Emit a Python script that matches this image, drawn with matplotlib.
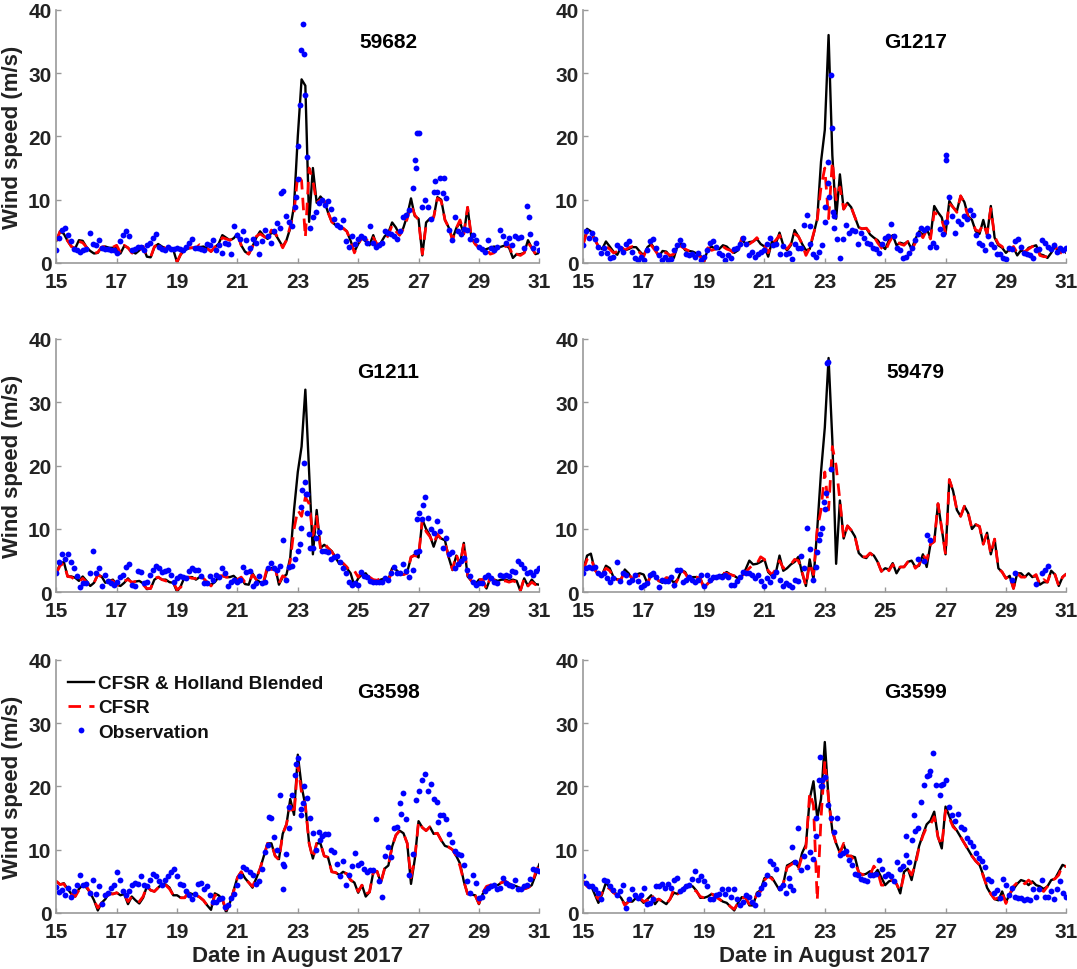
# wind speed at six stations, Harvey, August 2017
import numpy as np
import matplotlib
matplotlib.use('Agg')
import matplotlib.pyplot as plt

plt.rcParams['font.family'] = ['Liberation Sans', 'DejaVu Sans']
plt.rcParams['font.weight'] = 'bold'
plt.rcParams['axes.labelweight'] = 'bold'

n = np.nan
stations = ['59682', 'G1217', 'G1211', '59479', 'G3598', 'G3599']
xticks = [15, 17, 19, 21, 23, 25, 27, 29, 31]
yticks = [0, 10, 20, 30, 40]

# model series every 3 h, obs every 0.1 day (one row = one day)
model_t = [15 + i * 0.125 for i in range(129)]
obs_t = [15 + i * 0.1 for i in range(161)]

black_59682 = [3.5,5.0,4.6,3.5,2.6,2.3,3.6,3.5,
    2.5,1.9,1.5,1.6,2.5,2.6,2.4,2.4,
    2.4,1.5,2.7,2.4,1.8,1.5,2.0,2.6,
    1.0,0.9,2.5,3.0,2.6,2.3,2.4,2.1,
    0.1,1.4,2.0,2.3,2.4,2.4,2.5,2.6,
    2.3,1.8,2.5,3.0,4.4,4.0,3.6,3.9,
    4.6,2.8,1.8,1.4,2.6,4.0,5.0,4.3,
    3.8,4.8,4.6,3.6,2.6,3.6,5.5,9.0,
    20,29,28,6.5,15,9.5,10.5,9.8,
    8.0,6.5,6.0,5.5,5.5,5.0,3.5,1.8,
    3.0,4.0,3.4,2.8,4.4,2.6,3.2,4.2,
    4.8,6.4,5.6,4.4,5.6,7.5,10.2,7.4,
    7.0,1.2,6.4,7.0,7.2,10.4,10.0,6.8,
    5.6,3.8,5.5,6.4,4.6,8.8,4.0,3.0,
    2.4,2.0,2.2,2.4,2.6,2.4,2.6,2.8,
    2.4,0.8,1.4,1.4,1.6,3.6,2.4,1.4,1.6]
red_59682 = [3.5,5.0,4.4,3.5,2.6,2.3,3.4,3.2,
    2.5,1.8,1.5,1.7,2.5,2.6,2.4,2.5,
    2.8,1.6,2.8,2.4,1.6,1.4,2.0,2.6,
    1.0,0.9,2.6,3.0,2.6,2.3,2.4,2.1,
    0.2,1.4,2.0,2.4,2.4,2.4,2.9,2.6,
    2.3,1.8,2.5,3.0,4.0,3.8,3.6,3.9,
    4.6,2.8,1.8,1.4,2.6,4.2,4.6,4.2,
    3.8,5.2,4.8,3.6,2.4,3.6,5.8,8.0,
    14,13,4.0,15,13,9.5,10.0,9.8,
    8.0,6.5,6.0,5.5,5.5,5.0,3.5,1.6,
    3.0,4.0,3.8,3.2,4.0,3.0,3.0,3.4,
    4.4,6.0,5.0,4.4,5.4,7.0,9.2,7.6,
    6.8,1.4,6.0,6.8,7.2,10.2,9.8,6.8,
    5.6,3.6,5.5,6.8,4.6,8.8,4.0,3.0,
    2.4,2.0,2.2,1.4,1.6,2.4,2.6,2.6,
    2.8,1.0,1.4,1.2,1.6,3.2,2.4,1.4,1.6]
obs_59682 = [2.0,4.0,5.2,5.5,4.5,3.5,2.2,2.0,1.8,2.0,
    2.2,4.8,3.0,2.8,3.6,2.4,2.2,2.2,2.0,2.0,
    1.6,3.5,4.5,5.0,4.2,2.0,2.2,2.5,2.6,2.0,
    2.8,3.2,4.0,4.6,2.5,2.2,2.0,2.6,2.2,2.2,
    2.4,2.2,2.0,2.6,3.2,3.8,2.4,2.3,2.2,2.0,
    3.0,2.8,3.6,2.0,2.8,1.6,3.2,3.0,1.4,5.8,
    4.5,3.8,5.0,3.6,2.4,3.8,3.2,1.4,3.5,5.2,
    4.2,3.2,5.0,6.3,5.5,11.3,7.5,6.5,5.8,8.8,
    13.3,33.6,33.0,16.8,5.5,7.2,8.0,9.5,10.0,9.2,
    9.8,8.5,7.0,6.0,5.7,6.8,3.5,2.5,4.3,3.0,
    3.8,4.2,4.0,3.2,5.8,3.2,2.6,2.8,3.2,5.0,
    4.8,4.6,4.2,3.8,5.0,7.2,7.6,8.4,11.8,15.0,
    20.6,8.8,10.0,8.8,7.0,11.2,11.2,13.5,11.0,10.2,
    5.2,3.6,7.2,5.0,4.6,5.4,5.2,3.8,4.5,3.6,
    2.6,2.2,1.8,3.6,2.4,2.0,2.6,5.2,4.2,3.2,
    4.0,2.8,4.2,4.0,4.1,2.4,9.0,4.6,2.4,3.2,2.0]
extra_t_59682 = [22.94, 23.02, 23.07, 23.16, 23.24, 26.88, 26.95, 27.55, 27.85, 30.65, 22.45]
extra_v_59682 = [10.5, 18.5, 25.0, 37.8, 26.5, 16.3, 20.5, 13.0, 13.5, 7.2, 11.0]

black_G1217 = [3.0,5.4,5.0,3.8,2.6,2.2,3.4,2.6,
    1.8,1.3,2.5,2.0,2.2,2.5,2.5,1.8,
    1.2,2.5,3.0,2.2,1.0,1.9,1.8,1.0,
    0.8,2.8,3.0,2.0,1.9,1.8,1.5,1.2,
    0.2,2.2,2.6,2.2,2.2,2.8,2.6,2.0,
    1.6,2.0,3.8,3.0,3.3,3.4,3.8,3.0,
    2.6,1.0,3.4,3.0,4.8,2.8,2.0,2.8,
    5.2,4.2,3.0,2.0,2.2,4.5,7.0,16.0,
    21,36,17,7.0,14,8.5,9.5,8.8,
    7.2,5.6,5.4,5.5,4.5,4.0,3.6,2.8,
    2.2,3.6,4.4,2.8,3.2,3.0,3.4,2.2,
    3.8,5.0,4.4,5.4,4.0,9.0,8.0,7.2,
    4.6,9.8,8.8,8.2,10.6,9.6,7.4,6.8,
    5.0,4.6,6.8,4.4,9.0,4.0,2.8,2.4,
    1.6,2.2,2.4,1.2,2.0,1.6,2.4,2.6,
    2.8,1.4,1.2,0.8,1.6,2.6,1.8,2.2,1.6]
red_G1217 = [3.0,5.0,4.6,3.8,2.6,2.4,2.6,2.2,
    1.6,1.8,2.6,2.0,2.4,2.6,2.4,1.6,
    1.0,2.6,2.8,2.0,1.2,1.8,1.6,1.2,
    1.4,2.8,2.6,2.2,1.9,1.6,1.4,1.0,
    0.3,2.4,2.0,2.2,2.8,2.6,2.2,2.0,
    1.5,1.8,4.0,3.4,3.0,3.4,4.0,3.2,
    2.8,1.6,3.0,3.6,4.4,2.6,2.2,3.0,
    4.6,4.2,3.0,1.2,2.4,4.6,6.8,12.0,
    15,7.0,16,10,12,8.5,9.5,8.8,
    7.2,5.6,5.4,5.5,4.8,4.2,3.2,2.4,
    1.8,3.2,4.2,3.4,3.0,2.8,3.4,2.0,
    3.2,4.8,4.0,5.2,3.8,8.0,7.6,6.8,
    4.8,9.4,8.8,8.0,10.6,9.4,7.2,6.6,
    5.2,5.0,6.2,4.6,8.6,4.2,3.0,2.6,
    1.6,2.0,2.6,1.6,2.0,1.8,2.2,2.6,
    2.8,1.2,1.0,1.0,1.8,3.0,1.2,2.0,1.8]
obs_G1217 = [2.8,5.0,4.0,4.8,3.8,2.5,1.6,2.4,1.6,0.8,
    1.0,2.8,2.4,1.8,3.0,3.4,1.8,0.8,0.5,0.9,
    0.5,2.0,3.4,3.8,2.4,1.2,0.5,0.9,0.5,0.6,
    2.0,2.8,3.6,2.8,1.4,1.2,1.4,1.0,1.6,0.5,
    1.0,2.0,3.2,3.5,2.6,1.6,1.2,0.5,1.2,0.8,
    2.2,2.3,3.0,4.0,3.0,1.2,1.8,1.0,1.4,1.8,
    2.0,3.0,4.0,2.8,3.0,1.4,2.7,1.4,1.6,0.7,
    3.0,2.4,2.4,6.0,7.6,3.0,1.4,1.0,1.8,2.8,
    6.5,12.7,29.7,5.6,3.8,0.8,3.8,6.0,4.8,5.2,
    5.0,3.0,4.8,4.0,3.2,3.0,2.4,2.2,1.6,3.0,
    4.0,4.2,6.2,4.2,2.4,2.0,0.8,1.0,1.6,2.4,
    3.6,4.6,5.6,5.2,5.6,2.6,3.2,2.5,5.4,4.6,
    6.4,10.4,7.4,4.7,6.6,6.2,7.4,7.0,8.4,7.6,
    4.4,3.2,2.8,2.0,4.2,3.0,2.6,1.4,1.4,0.8,
    0.7,2.4,2.2,3.4,3.8,2.6,1.6,1.4,1.2,0.8,
    2.0,2.2,3.6,3.2,2.6,2.2,2.8,1.8,2.4,2.0,2.4]
extra_t_G1217 = [23.02, 23.1, 23.14, 23.23, 23.27, 23.3, 27.0, 27.03, 22.5]
extra_v_G1217 = [8.8, 16.0, 10.4, 21.3, 8.0, 7.4, 16.2, 17.1, 5.8]

black_G1211 = [3.0,4.5,4.8,2.5,2.5,2.3,1.8,2.5,
    1.8,1.0,1.5,2.8,2.5,1.5,1.8,2.0,
    1.2,1.0,1.5,2.2,1.5,1.7,1.8,1.4,
    0.5,0.6,2.0,2.4,2.0,2.0,1.6,1.5,
    0.1,1.0,2.4,2.4,2.4,2.0,2.4,2.2,
    1.4,1.2,1.6,2.4,2.6,2.4,2.4,2.6,
    2.0,2.2,1.3,1.2,3.0,2.0,1.6,1.6,
    3.8,3.8,4.0,1.2,2.4,2.8,5.5,13,
    19,23,32,19,6.0,13,7.0,7.5,
    7.0,6.5,5.5,4.5,4.5,3.8,3.0,1.0,
    2.2,2.8,3.0,2.2,1.8,1.8,2.0,2.2,
    2.0,3.8,3.6,3.0,2.8,3.2,5.5,6.0,
    5.5,11.5,10,9.0,7.2,9.0,8.5,8.2,
    5.5,3.5,5.8,4.5,7.8,2.5,1.8,1.2,
    2.0,2.0,0.6,2.2,2.0,1.8,2.0,2.0,
    1.8,2.0,1.8,0.2,2.2,1.0,2.0,1.3,1.2]
red_G1211 = [3.0,4.2,4.6,2.5,2.4,2.0,1.6,2.2,
    1.6,0.9,1.5,2.8,2.4,1.8,1.8,1.8,
    1.2,1.0,1.8,2.0,1.6,1.7,1.6,1.2,
    0.6,0.6,2.2,2.4,2.0,1.8,1.6,1.6,
    0.4,0.8,2.2,2.4,2.2,2.2,2.6,2.2,
    1.6,1.0,1.8,2.6,2.6,2.4,2.4,2.4,
    2.0,2.4,1.6,1.4,2.8,2.0,1.4,1.8,
    4.2,3.6,3.8,1.4,2.6,2.2,5.0,10,
    13,12,15,14,9.0,12,7.0,7.8,
    7.0,6.4,5.5,4.8,4.6,4.0,3.2,3.4,
    2.4,3.2,3.0,2.4,2.0,1.9,2.2,2.0,
    1.8,3.4,3.8,3.0,2.8,3.0,5.6,5.8,
    5.6,11.5,9.6,8.8,7.6,9.2,8.4,7.8,
    5.6,3.6,6.0,4.2,7.8,2.8,1.8,1.4,
    2.0,2.0,0.5,2.4,1.9,2.0,1.8,1.8,
    1.6,1.8,1.6,0.3,2.2,1.0,1.6,1.2,1.4]
obs_G1211 = [3.0,4.8,6.0,5.2,6.0,4.8,3.8,2.5,0.9,1.5,
    1.5,3.0,6.6,3.0,3.8,1.0,2.8,1.8,1.4,1.2,
    1.6,2.4,2.8,4.0,4.4,1.2,1.0,3.4,3.2,1.5,
    1.6,2.8,3.5,4.2,3.8,3.2,3.4,3.6,2.8,1.6,
    2.2,2.6,2.4,2.2,3.4,3.8,3.5,3.5,2.5,1.4,
    1.5,2.6,2.0,2.8,2.4,3.8,3.0,1.0,1.6,2.0,
    1.6,2.0,4.0,3.2,3.4,1.0,1.5,2.6,1.4,1.6,
    3.8,4.6,3.8,3.6,4.2,8.2,2.0,4.0,4.2,5.2,
    6.6,10.2,20.4,15.5,7.0,7.0,8.6,9.5,6.5,6.5,
    6.4,5.2,5.6,5.8,4.8,3.8,3.0,1.6,1.2,1.4,
    1.2,3.2,2.6,2.4,1.8,1.6,1.6,1.6,1.6,2.2,
    2.0,3.0,4.0,3.0,3.0,4.4,3.4,2.4,3.5,6.4,
    6.6,11.5,15.0,11.8,10.0,9.4,11.2,9.7,7.0,8.6,
    6.0,6.4,3.8,4.5,5.0,5.4,3.6,2.5,1.6,1.2,
    1.4,1.5,2.4,2.8,2.2,1.6,1.4,2.8,2.6,2.8,
    2.6,3.4,3.2,5.0,4.4,3.8,3.0,3.2,2.8,3.4,3.8]
extra_t_G1211 = [23.06, 23.1, 23.15, 23.24, 23.28, 23.32, 23.36, 27.0, 26.95, 27.15]
extra_v_G1211 = [7.6, 13.5, 16.2, 17.4, 15.5, 12.6, 9.2, 12.6, 11.5, 13.8]

black_59479 = [3.5,5.8,6.1,3.6,2.8,2.8,4.2,3.8,
    2.4,2.0,2.0,3.6,3.0,2.0,2.8,3.0,
    2.8,1.4,3.0,2.5,1.8,1.5,2.3,2.2,
    1.5,2.0,3.5,3.2,2.0,2.4,2.4,2.2,
    0.8,1.4,1.8,2.4,2.5,2.8,3.2,2.8,
    2.6,2.2,2.5,3.6,5.0,4.4,4.5,4.8,
    5.2,3.2,2.6,3.0,5.8,3.4,3.8,4.4,
    4.8,5.6,3.0,1.0,5.2,2.0,10,19,
    26,37,24,4.5,14.5,8.5,10.5,9.8,
    8.8,6.2,5.6,5.4,6.2,5.8,4.8,3.3,
    3.8,3.6,4.6,3.0,4.0,4.0,4.8,5.0,
    4.0,4.2,6.0,4.0,7.6,8.0,14,10,
    6.0,17.8,16,13,12,13.6,12.5,10,
    10.7,10.4,7.6,9.4,6.0,8.4,3.8,3.2,
    2.2,2.6,0.6,3.0,3.0,2.4,3.0,2.4,
    2.6,1.2,1.6,1.6,3.4,2.8,1.0,2.4,2.9]
red_59479 = [3.5,5.2,5.6,3.6,2.8,2.8,3.8,3.4,
    2.4,2.0,2.0,3.4,2.8,2.2,2.6,2.6,
    2.4,1.4,2.8,2.5,1.8,1.8,2.3,2.2,
    0.8,2.0,3.5,3.0,2.0,2.4,2.4,2.2,
    0.5,1.4,1.8,2.6,2.8,3.0,3.0,2.8,
    2.6,2.4,2.5,3.2,3.8,4.4,4.5,5.6,
    5.2,3.4,2.8,3.6,5.0,3.8,4.0,4.4,
    5.2,5.0,3.2,1.0,4.6,2.8,10,13,
    19,13,23,20,14.5,8.5,10.5,9.8,
    8.8,6.2,5.6,5.6,6.2,5.6,4.8,3.3,
    4.2,3.4,4.4,3.4,4.0,4.0,4.8,5.0,
    3.8,4.4,6.0,5.0,7.6,8.0,14,10,
    6.0,17.8,16,13,12,13.6,12.5,10,
    10.7,10.4,7.6,9.4,6.0,8.4,3.8,3.2,
    2.2,2.6,0.6,3.0,2.4,2.4,2.8,2.4,
    2.8,1.2,2.0,1.6,3.4,2.8,1.0,2.4,2.9]
obs_59479 = [3.1,3.8,4.0,3.8,4.0,3.0,2.8,3.0,2.2,1.6,
    2.2,4.8,1.8,3.0,2.8,1.6,2.0,2.8,1.8,0.8,
    1.2,1.4,2.8,3.0,2.4,0.8,2.0,1.8,1.8,2.4,
    1.2,3.6,3.5,1.6,2.0,2.4,2.0,1.6,1.9,2.8,
    1.0,2.8,2.0,2.4,2.4,2.6,2.4,2.8,2.4,1.1,
    1.2,1.8,2.4,3.2,3.0,3.0,2.8,2.2,2.8,1.8,
    1.0,2.2,1.6,2.6,3.2,2.0,1.0,1.4,1.2,0.9,
    2.0,1.8,5.8,3.8,10.1,6.8,2.0,4.0,8.2,10.2,
    13.2,36.3,19.4,n,n,n,n,n,n,n,
    n,n,n,n,n,n,n,n,n,n,
    n,n,n,n,n,n,n,n,n,n,
    n,5.2,n,5.0,9.0,8.2,n,n,n,n,
    n,n,n,n,n,n,n,n,n,n,
    n,n,n,n,n,n,n,n,n,n,
    n,n,1.9,3.0,n,n,n,n,n,n,
    1.3,n,3.0,3.6,4.2,n,n,n,n,n,n]
extra_t_59479 = [22.98, 23.05, 23.08, 22.75, 22.85]
extra_v_59479 = [14.2, 15.7, 36.2, 6.3, 9.2]

black_G3598 = [5.0,4.5,4.7,3.8,3.0,2.6,3.8,4.4,
    4.0,3.2,2.0,0.4,1.6,2.2,3.2,3.0,
    3.2,2.8,3.0,1.4,2.6,2.0,1.5,2.4,
    4.2,3.6,3.4,4.0,4.6,4.5,4.0,2.8,
    2.8,2.4,2.4,3.2,3.0,2.8,2.5,2.0,
    1.2,0.5,3.1,2.8,2.2,0.1,1.6,3.6,
    5.6,6.5,5.5,4.8,4.0,5.5,7.0,9.0,
    11,11,9.0,8.5,12.5,14,18,15.5,
    25,20,17,11,8.6,11,11,9.0,
    8.8,6.5,6.4,6.0,6.5,6.2,5.2,4.8,
    3.2,4.4,2.6,3.3,6.4,6.6,4.8,7.0,
    7.5,10.5,12.3,13,12.6,11,4.6,8.5,
    14.5,13.5,13,13.6,12.5,12.6,11.5,10.6,
    10.4,10,9.0,7.8,5.0,3.0,2.9,2.8,
    1.4,3.0,3.8,4.2,4.4,4.4,4.8,5.0,
    4.6,4.4,4.2,3.9,3.8,4.0,4.4,6.0,7.7]
red_G3598 = [5.0,4.5,4.6,3.6,3.0,2.6,3.6,4.4,
    4.2,3.2,2.0,0.8,1.6,2.2,3.0,3.0,
    3.2,2.8,3.0,1.8,2.6,2.2,1.8,2.6,
    4.2,3.6,3.4,4.0,4.6,4.4,3.8,2.8,
    2.8,2.4,2.4,3.2,3.0,2.8,2.5,2.0,
    1.2,0.8,2.8,2.8,2.2,0.5,1.6,3.4,
    5.6,6.5,5.5,4.8,4.2,5.5,7.0,9.0,
    11,11,9.0,8.4,12.5,14,17,15.5,
    23.5,19,17,11,8.6,11,11,9.0,
    8.8,6.5,6.4,6.0,6.4,6.2,5.2,4.8,
    3.4,4.4,3.0,3.3,6.4,6.6,4.8,7.0,
    7.5,10.5,12.3,13,12.6,11,5.6,8.5,
    14.5,13.5,13,13.6,12.5,12.6,11.5,10.6,
    10.4,10,9.0,7.4,5.0,3.0,3.4,2.8,
    1.5,3.2,4.2,4.4,4.6,4.6,4.8,5.0,
    4.6,4.4,4.2,3.9,3.8,4.0,4.4,6.4,7.7]
obs_G3598 = [4.1,3.3,3.6,2.8,4.0,2.5,3.4,4.5,6.0,4.5,
    4.6,3.2,5.2,3.0,4.2,1.5,2.8,3.2,4.0,4.5,
    6.4,5.2,3.4,2.8,3.4,4.4,4.8,4.6,5.8,4.4,
    4.2,5.2,6.2,5.8,5.0,4.4,5.2,5.8,6.4,6.9,
    5.8,4.6,4.4,3.5,2.8,2.2,3.0,4.6,4.8,3.8,
    4.2,2.8,1.8,1.8,2.2,2.4,1.0,1.2,2.4,3.0,
    4.4,5.8,7.2,7.0,6.4,6.0,4.6,5.0,7.0,9.6,
    10.8,15,12,10,18.6,7.8,9.3,16.8,18.6,21.8,
    24.5,16.5,20,18.2,15,12.6,10,12.8,12.2,12.4,
    12.5,10,9.6,7.8,5.8,8.2,4.5,6.0,7.5,9.4,
    7.6,7.9,7.0,6.4,6.8,6.8,14.9,5.0,2.5,9.0,
    10.4,8.8,13.4,13.6,17.3,19,14.8,6.0,9.3,17.8,
    19.3,21,22,19.3,20.3,18,17.6,15.5,15.5,14.8,
    12.5,11.2,9.8,9.3,9.1,7.6,5.0,3.2,6.0,4.8,
    2.4,2.6,3.5,4.0,4.2,4.4,3.8,4.0,5.6,4.8,
    4.4,4.2,5.2,3.8,3.8,4.2,4.4,5.4,7.0,6.8,6.6]
extra_t_G3598 = [22.5, 22.05, 22.72, 22.95, 23.12, 23.18, 26.42, 27.65, 22.55, 23.75]
extra_v_G3598 = [3.8, 15.2, 13.4, 23.6, 15.4, 17.4, 15.6, 14.4, 7.4, 11.6]

black_G3599 = [5.0,4.4,4.4,3.0,1.6,3.0,4.8,4.0,
    3.2,3.0,2.4,1.4,1.8,1.8,2.4,2.2,
    1.6,2.2,2.8,1.4,2.2,1.8,1.4,2.2,
    3.2,3.0,3.6,4.2,4.4,4.2,3.5,2.4,
    2.4,2.6,3.0,2.8,2.2,1.8,1.6,1.0,
    0.4,1.6,2.5,2.4,1.2,1.2,3.2,3.6,
    5.5,5.8,5.6,4.6,3.6,4.6,7.5,7.8,
    8.2,7.2,9.5,10.8,18,20.8,15,18,
    27,18,13,11,9.5,10.8,9.0,9.0,
    8.8,6.4,6.0,6.2,6.6,6.0,6.8,5.6,
    4.4,5.0,5.2,4.6,3.1,6.5,7.0,5.2,
    8.0,10.6,12.4,14,14.6,16,12,10.2,
    16.8,15.3,13.8,13,12,11,10,9.0,
    8.2,7.6,6.0,4.0,3.0,2.2,2.0,3.4,
    1.7,3.0,3.8,4.6,5.2,5.0,4.4,5.0,
    4.4,4.2,3.8,4.2,5.2,5.4,6.5,7.6,7.3]
red_G3599 = [5.0,4.2,4.2,3.0,2.2,3.2,4.2,3.8,
    3.2,2.8,2.4,1.2,1.8,1.8,2.4,2.4,
    1.8,2.0,3.0,2.0,2.2,1.8,1.4,2.2,
    3.8,3.0,3.4,4.0,4.2,3.8,3.4,2.6,
    2.4,2.6,3.0,2.6,2.2,1.8,1.6,1.0,
    0.6,1.6,2.4,2.4,1.4,1.4,3.0,3.4,
    5.2,5.8,5.4,4.6,3.8,4.6,7.2,7.6,
    8.0,7.0,9.0,10.4,19,17,2.0,15,
    24,18,13,11,9.5,11,9.0,9.0,
    8.0,6.4,6.0,6.6,6.0,7.4,6.6,4.4,
    4.4,5.0,5.2,4.6,3.4,6.0,7.0,6.0,
    7.6,10.4,12.2,13.6,14,15.2,12,10.6,
    16.2,15,13.6,13,12,11,10,9.0,
    8.2,7.6,5.8,4.2,3.0,2.2,2.4,3.2,
    1.5,3.0,4.2,4.8,5.2,4.6,5.2,4.6,
    4.0,3.8,3.4,4.2,5.2,5.4,6.0,7.6,7.3]
obs_G3599 = [5.8,4.8,4.2,4.2,3.8,3.2,2.2,5.2,5.0,4.2,
    3.6,2.8,3.4,4.5,0.8,2.2,3.8,2.8,2.4,2.8,
    4.0,1.4,1.6,2.2,4.2,4.3,4.6,4.0,4.6,4.0,
    5.2,5.6,3.4,3.8,4.2,4.5,5.4,6.6,5.2,5.8,
    5.0,4.2,2.2,2.2,2.8,3.0,3.8,3.0,3.8,2.6,
    3.8,2.2,1.2,1.8,2.8,2.6,1.8,1.2,3.0,4.0,
    4.6,6.0,8.2,7.8,7.0,4.0,4.5,3.2,5.6,10.4,
    8.0,13.4,6.8,9.0,7.2,9.6,8.6,15,21,20,
    21.4,17,15,12.8,15,9.2,9.4,9.8,8.4,7.6,
    6.2,6.0,5.4,5.2,5.0,6.0,6.0,6.2,8.3,7.0,
    5.8,6.2,5.8,5.0,8.0,7.0,7.4,12.1,8.0,11.6,
    13,13.4,17.6,20.2,21.6,22.5,25.3,20.2,18.6,20.4,
    21,16.7,15.4,14.6,15.6,13.6,13.2,11.8,11.2,10.6,
    9.4,8.7,8.2,7.2,5.4,5.0,3.2,3.6,2.4,5.4,
    4.4,2.8,4.0,2.6,2.4,2.4,2.0,2.2,2.0,3.8,
    2.6,3.8,5.2,2.6,2.6,3.4,2.2,3.8,5.0,3.2,2.6]
extra_t_G3599 = [21.95, 21.85, 22.72, 22.88, 22.92, 22.85, 25.7, 25.95, 26.85, 26.45]
extra_v_G3599 = [3.6, 4.2, 12.2, 20.0, 21.0, 24.6, 9.2, 15.5, 20.2, 21.8]

blacks = [black_59682, black_G1217, black_G1211, black_59479, black_G3598, black_G3599]
reds = [red_59682, red_G1217, red_G1211, red_59479, red_G3598, red_G3599]
obss = [obs_59682, obs_G1217, obs_G1211, obs_59479, obs_G3598, obs_G3599]
extra_ts = [extra_t_59682, extra_t_G1217, extra_t_G1211, extra_t_59479, extra_t_G3598, extra_t_G3599]
extra_vs = [extra_v_59682, extra_v_G1217, extra_v_G1211, extra_v_59479, extra_v_G3598, extra_v_G3599]

W, H = 1077, 970
lefts = [56.3, 583.3]
tops = [10.7, 340, 660.7]
w_px, h_px = 483, 253.3
txt = '#222222'

fig = plt.figure(figsize=(W / 100, H / 100), dpi=100)
for i in range(6):
    row, col = i // 2, i % 2
    ax = fig.add_axes([lefts[col] / W, 1 - (tops[row] + h_px) / H, w_px / W, h_px / H])
    ax.plot(model_t, blacks[i], color='k', lw=1.7, label='CFSR & Holland Blended')
    ax.plot(model_t, reds[i], color='#ff0000', lw=2.0, dashes=(4.5, 3), label='CFSR')
    ax.plot(obs_t, obss[i], ls='none', marker='o', ms=4.2, color='#0000ff', mec='none', label='Observation')
    ax.plot(extra_ts[i], extra_vs[i], ls='none', marker='o', ms=4.2, color='#0000ff', mec='none')
    ax.set_xlim(15, 31)
    ax.set_ylim(0, 40)
    ax.set_xticks(xticks)
    ax.set_yticks(yticks)
    ax.tick_params(direction='in', length=3.5, width=1, color='#999999',
                   labelsize=15, labelcolor=txt)
    ax.tick_params(axis='x', pad=6.5)
    ax.tick_params(axis='y', pad=3.5)
    for s in ['top', 'right']:
        ax.spines[s].set_visible(False)
    for s in ['left', 'bottom']:
        ax.spines[s].set_color('#999999')
        ax.spines[s].set_linewidth(1.2)
    ax.text(26.0, 34.9, stations[i], fontsize=15, color='k', ha='center', va='center')
    if col == 0:
        ax.set_ylabel('Wind speed (m/s)', fontsize=16, color=txt, labelpad=4)
    if row == 2:
        ax.set_xlabel('Date in August 2017', fontsize=16, color=txt, labelpad=3)
    if i == 4:
        ax.legend(loc='upper left', bbox_to_anchor=(0.0, 0.985), frameon=False, fontsize=13.7,
                  handlelength=1.4, handletextpad=0.2, labelspacing=0.36, borderpad=0.1,
                  labelcolor='#111111')

fig.savefig('out.png', dpi=100)
